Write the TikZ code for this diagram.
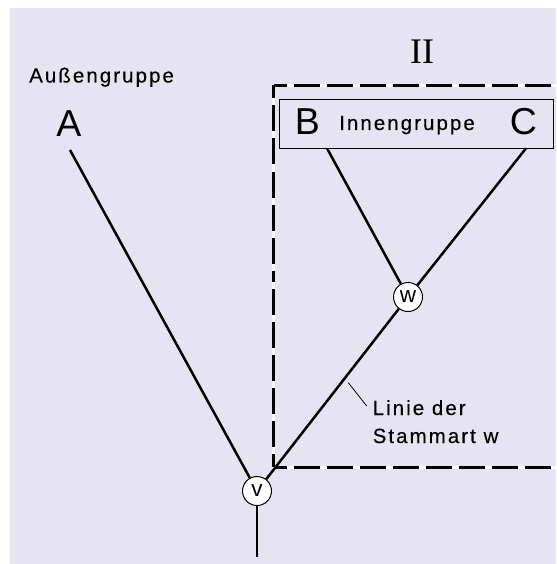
\documentclass[tikz,border=0pt]{standalone}
\usepackage{fontspec}
\setmainfont{Liberation Sans}
\newfontfamily\lsp[LetterSpace=10,FakeBold=0.3]{Liberation Sans}
\newfontfamily\serifII{Liberation Serif}
\definecolor{bgc}{RGB}{230,228,242}
\begin{document}
\begin{tikzpicture}[x=1pt,y=-1pt,
  tree/.style={line width=2.5pt},
  dashline/.style={line width=3pt,dash pattern=on 26pt off 7pt,dash phase=13pt},
  dashunder/.style={line width=3pt,white},
  circ/.style={circle,draw,line width=1pt,fill=white,minimum size=29pt,inner sep=0pt,font=\fontsize{22.5}{22.5}\selectfont},
  lbl/.style={inner sep=0pt,anchor=base west,font=\lsp\fontsize{20.5}{20.5}\selectfont},
  big/.style={inner sep=0pt,anchor=base,font=\fontsize{37.5}{37.5}\selectfont}]
\useasboundingbox (0,0) rectangle (556,564);
\fill[bgc] (10,8) rectangle (556,564);
% dashed clade frame
\coordinate (tl) at (273.5,85.5);
\coordinate (bl) at (273.5,467);
\coordinate (tr) at (556,85.5);
\coordinate (br) at (556,467);
\coordinate (lm) at (273.5,276);
\draw[dashunder] (tr) -- (tl) -- (bl) -- (br);
\draw[dashline] (tl) -- (tr);
\draw[dashline] (tl) -- (lm);
\draw[dashline] (bl) -- (lm);
\draw[dashline] (bl) -- (br);
% ingroup box
\node[draw,line width=1pt,fill=bgc,minimum width=274pt,minimum height=49pt,inner sep=0pt] (box) at (416.3,123.8) {};
% texts
\node[lbl] (aus) at (29,82.5) {Außengruppe};
\node[big] (A) at (69,136.7) {A};
\node[inner sep=0pt,anchor=base,font=\serifII\fontsize{36}{36}\selectfont] (II) at (422,63.3) {II};
\node[big] (B) at (307.5,135) {B};
\node[lbl] (inn) at (339,130) {Innengruppe};
\node[big] (C) at (523.3,135) {C};
\node[lbl] (lin1) at (372.5,415) {Linie der};
\node[lbl] (lin2) at (372.5,443) {Stammart w};
% tree
\node[circ] (v) at (257,491) {v};
\node[circ] (w) at (408,297) {w};
\coordinate (aend) at (70,150);
\coordinate (bend) at (327,148.3);
\coordinate (cend) at (526,148.3);
\coordinate (root) at (257,557);
\draw[tree] (aend) -- (v);
\draw[tree] (v) -- (root);
\draw[tree] (v) -- (w);
\draw[tree] (w) -- (cend);
\draw[tree] (bend) -- (w);
% leader
\coordinate (ld1) at (348.3,382.7);
\coordinate (ld2) at (366.7,406);
\draw[line width=0.8pt] (ld1) -- (ld2);
\end{tikzpicture}
\end{document}
